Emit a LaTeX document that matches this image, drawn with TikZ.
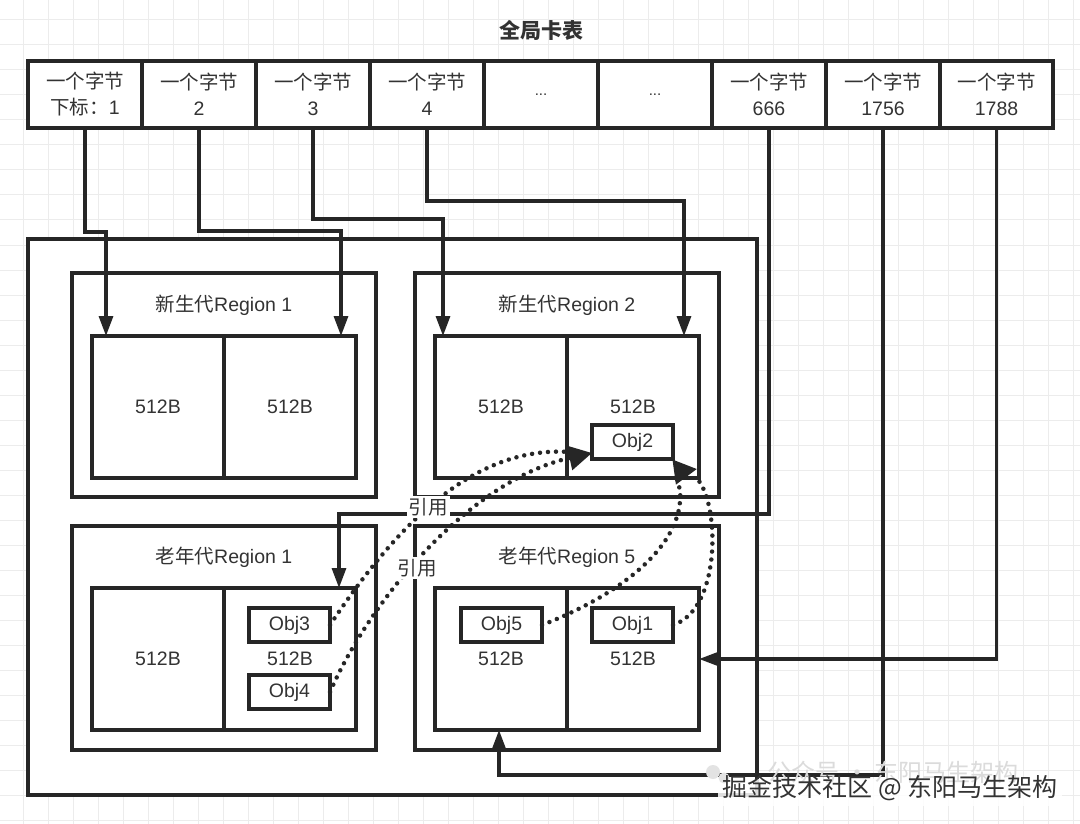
\documentclass[tikz,border=0pt]{standalone}
\usepackage{fontspec}
\setmainfont{Liberation Sans}
\newfontfamily\cjk{Noto Sans CJK SC}
\usetikzlibrary{arrows.meta,calc}
\definecolor{ink}{RGB}{38,38,38}
\definecolor{txt}{RGB}{51,51,51}
\definecolor{gridc}{RGB}{236,236,236}
\begin{document}
\begin{tikzpicture}[x=1pt,y=-1pt,
  every node/.style={text=txt, font=\fontsize{19.5}{26}\selectfont, inner sep=0pt, outer sep=0pt},
  box/.style={draw=ink, line width=3.2pt, fill=white},
  cell/.style={box, minimum width=114pt, minimum height=67pt, align=center, anchor=north west},
  region/.style={box, minimum width=304pt, minimum height=224pt, anchor=north west},
  half/.style={box, minimum width=132pt, minimum height=142pt, anchor=north west},
  objbox/.style={box, minimum width=81pt, minimum height=34pt, anchor=north west},
  conn/.style={draw=ink, line width=3.2pt, -{Triangle[length=20pt,width=14pt]}},
  dots/.style={draw=ink, line width=4.5pt, line cap=round, dash pattern=on 0pt off 8pt},
  dotarrow/.style={dots, -{Triangle[length=23pt,width=24pt]}},
  lbl/.style={fill=white, inner sep=2pt}
]
\useasboundingbox (0,0) rectangle (1080,824);
\fill[white] (0,0) rectangle (1080,824);
% background grid
\foreach \gx in {23,48,...,1080} \draw[gridc, line width=1pt] (\gx,0) -- (\gx,824);
\foreach \gy in {20,45,...,824} \draw[gridc, line width=1pt] (0,\gy) -- (1080,\gy);

% title
\node[font=\fontsize{21}{24}\selectfont\cjk\bfseries] (title) at (541,30) {全局卡表};

% card table
\node[cell] (c1) at (28,61) {{\cjk 一个字节}\\{\cjk 下标：}1};
\node[cell] (c2) at (142,61) {{\cjk 一个字节}\\2};
\node[cell] (c3) at (256,61) {{\cjk 一个字节}\\3};
\node[cell] (c4) at (370,61) {{\cjk 一个字节}\\4};
\node[cell] (c5) at (484,61) {\fontsize{15}{18}\selectfont ...};
\node[cell] (c6) at (598,61) {\fontsize{15}{18}\selectfont ...};
\node[cell] (c7) at (712,61) {{\cjk 一个字节}\\666};
\node[cell] (c8) at (826,61) {{\cjk 一个字节}\\1756};
\node[cell, minimum width=113pt] (c9) at (940,61) {{\cjk 一个字节}\\1788};

% heap
\node[box, anchor=north west, minimum width=729pt, minimum height=556pt] (outer) at (28,239) {};
\node[region] (rn1) at (72,273) {};
\node[region] (rn2) at (415,273) {};
\node[region] (ro1) at (72,526) {};
\node[region] (ro5) at (415,526) {};
\node (rn1t) at (224,305) {{\cjk 新生代}Region 1};
\node (rn2t) at (567,305) {{\cjk 新生代}Region 2};
\node (ro1t) at (224,557) {{\cjk 老年代}Region 1};
\node (ro5t) at (567,557) {{\cjk 老年代}Region 5};

\node[half] (n1a) at (92,336) {512B};
\node[half] (n1b) at (224,336) {512B};
\node[half] (n2a) at (435,336) {512B};
\node[half] (n2b) at (567,336) {512B};
\node[half] (o1a) at (92,588) {512B};
\node[half] (o1b) at (224,588) {512B};
\node[half] (o5a) at (435,588) {512B};
\node[half] (o5b) at (567,588) {512B};

\node[objbox] (obj2) at (592,425) {Obj2};
\node[objbox] (obj3) at (249,608) {Obj3};
\node[objbox] (obj4) at (249,675) {Obj4};
\node[objbox] (obj5) at (461,608) {Obj5};
\node[objbox] (obj1) at (592,608) {Obj1};

% connector end points on the boxes
\coordinate (t1) at ($(n1a.north west)+(14,0)$);
\coordinate (t2) at ($(n1b.north east)+(-15,0)$);
\coordinate (t3) at ($(n2a.north west)+(8,0)$);
\coordinate (t4) at ($(n2b.north east)+(-15,0)$);
\coordinate (t5) at ($(o1b.north east)+(-17,0)$);
\coordinate (t6) at ($(o5a.south west)+(64,0)$);
\coordinate (t7) at ($(o5b.east)+(0,0)$);

\draw[conn] (c1.south) -- ++(0,104) -| (t1);
\draw[conn] (c2.south) -- ++(0,103) -| (t2);
\draw[conn] (c3.south) -- ++(0,91) -| (t3);
\draw[conn] (c4.south) -- ++(0,73) -| (t4);
\draw[conn] (c7.south) -- ++(0,386) -| (t5);
\draw[conn] (c8.south) -- ++(0,647) -| (t6);
\draw[conn] (c9.south) |- (t7);

% reference curves
\coordinate (a2) at ($(obj2.west)+(0,11)$);
\coordinate (a1) at ($(obj2.south east)+(24,10)$);
\draw[dots] (obj3.east) .. controls (400,520) and (480,440) .. ($(a2)+(-12,0)$);
\draw[dotarrow] (obj4.east) .. controls (370,600) and (470,480) .. (a2);
\draw[dots] (obj1.east) .. controls (720,610) and (720,510) .. ($(a1)+(2,12)$);
\draw[dotarrow] (obj5.east) .. controls (620,595) and (685,545) .. (680,490) .. controls (675,472) .. (a1);

\node[lbl, font=\fontsize{19.5}{26}\selectfont\cjk] (l1) at (428,507) {引用};
\node[lbl, font=\fontsize{19.5}{26}\selectfont\cjk] (l2) at (417,568) {引用};

% watermark
\fill[white, opacity=0.85] (718,779) rectangle (1062,806);
\fill[gray!22] (713,772) circle (7pt);
\fill[gray!22] (724,778) circle (5.5pt);
\node[text=gray!28, font=\fontsize{24}{24}\selectfont\cjk] (wm2) at (893,772) {公众号 · 东阳马生架构};
\node[text=txt, font=\fontsize{25}{25}\selectfont\cjk] (wm1) at (890,788) {掘金技术社区 @ 东阳马生架构};
\end{tikzpicture}
\end{document}
